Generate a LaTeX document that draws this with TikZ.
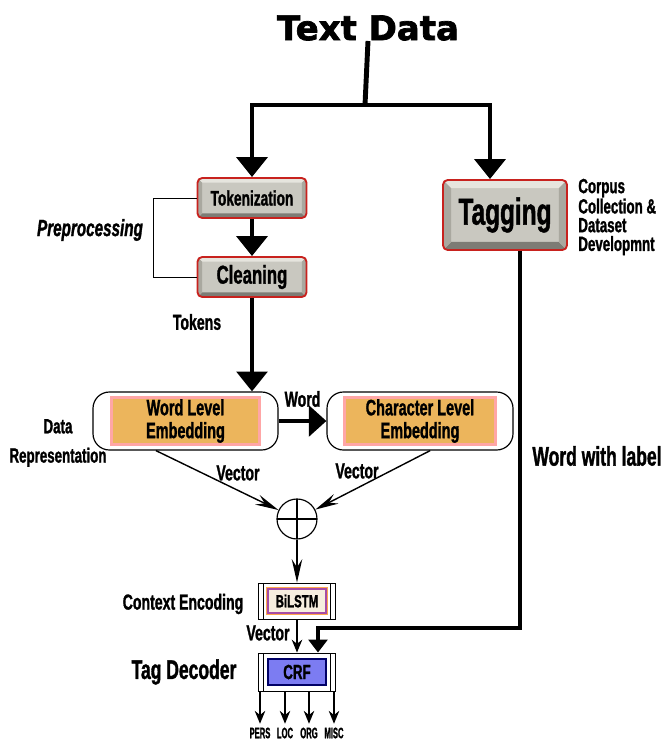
\documentclass[tikz,border=0pt]{standalone}
\usepackage{fontspec}
\setmainfont{Liberation Sans}
\newfontfamily\narrowfont{Liberation Sans}[FakeStretch=0.65, BoldFeatures={FakeBold=1.2}, BoldItalicFeatures={FakeBold=1.2}]
\newfontfamily\condfont{Liberation Sans}[FakeStretch=0.5, BoldFeatures={FakeBold=1}]
\newfontfamily\titlefont{DejaVu Sans}[BoldFeatures={FakeBold=2}]
\usepackage{tikz}
\usetikzlibrary{arrows.meta,calc,positioning}
\newcommand{\setfs}[2]{\fontsize{#1}{#2}\selectfont}

\definecolor{keyred}{HTML}{C8221E}
\definecolor{keyface}{HTML}{C9C8C0}
\definecolor{keylight}{HTML}{E6E5DE}
\definecolor{keyside}{HTML}{A9A89F}
\definecolor{keydark}{HTML}{7D7C75}
\definecolor{embfill}{HTML}{ECB55C}
\definecolor{crffill}{HTML}{7C7CF2}
\definecolor{lstmfill}{HTML}{F6EEDF}

% grey key with a bevel, #1 = bevel depth
\tikzset{keybox/.style={draw=keyred, line width=1.6pt, rounded corners=4pt, fill=keyface,
    font=\narrowfont\bfseries, inner sep=0pt,
    path picture={
      \coordinate (ksw) at (path picture bounding box.south west);
      \coordinate (kse) at (path picture bounding box.south east);
      \coordinate (knw) at (path picture bounding box.north west);
      \coordinate (kne) at (path picture bounding box.north east);
      \fill[keydark, sharp corners] (ksw) -- (kse) -- ([shift={(-#1,#1)}]kse) -- ([shift={(#1,#1)}]ksw) -- cycle;
      \fill[keylight, sharp corners] (knw) -- (kne) -- ([shift={(-#1,-#1)}]kne) -- ([shift={(#1,-#1)}]knw) -- cycle;
      \fill[keyside, sharp corners] (ksw) -- (knw) -- ([shift={(#1,-#1)}]knw) -- ([shift={(#1,#1)}]ksw) -- cycle;
      \fill[keyside, sharp corners] (kse) -- (kne) -- ([shift={(-#1,-#1)}]kne) -- ([shift={(-#1,#1)}]kse) -- cycle;
    }}}

\begin{document}
\begin{tikzpicture}[x=0.03cm,y=-0.03cm,>=Stealth,semithick]
  \tikzstyle{lbl}=[inner sep=0pt, font=\narrowfont\bfseries\setfs{18.5}{20}]
  \tikzstyle{embouter}=[draw, fill=white, line width=1pt, rounded corners=14pt,
                        minimum width=5.55cm, minimum height=1.74cm]
  \tikzstyle{embinner}=[fill=embfill, draw=red!35, line width=2.5pt, minimum width=4.45cm,
                        minimum height=1.4cm, align=center, inner sep=0pt,
                        font=\narrowfont\bfseries\setfs{19}{19.5}]
  \tikzstyle{procbox}=[draw, fill=white, line width=0.8pt, minimum width=2.31cm,
                       path picture={
                         \draw[line width=0.8pt] ([xshift=4.5pt]path picture bounding box.north west) -- ([xshift=4.5pt]path picture bounding box.south west);
                         \draw[line width=0.8pt] ([xshift=-4.5pt]path picture bounding box.north east) -- ([xshift=-4.5pt]path picture bounding box.south east);}]
  \tikzstyle{bigarrow}=[line width=4.2pt, -{Triangle[width=26pt,length=17pt]}]
  \tikzstyle{tagarrow}=[line width=3.4pt, -{Triangle[width=16pt,length=11pt]}]
  \tikzstyle{vecarrow}=[line width=1.2pt, -{Stealth[length=20pt,width=9pt,inset=7pt]}]
  \tikzstyle{smallarrow}=[line width=1.2pt, -{Stealth[length=11pt,width=9pt]}]

  \useasboundingbox (0,0) rectangle (667,743);

  % top: data and the two branches
  \node[inner sep=0pt, font=\titlefont\bfseries\setfs{29}{30}] (title) at (368,28) {Text Data};
  \coordinate (split) at (365,105);

  \node[keybox=4pt, minimum width=3.27cm, minimum height=1.2cm, font=\narrowfont\bfseries\setfs{18}{19}] (tok) at (252,198) {Tokenization};
  \node[keybox=4pt, minimum width=3.27cm, minimum height=1.2cm, font=\narrowfont\bfseries\setfs{22}{23}] (clean) at (252,277) {Cleaning};
  \node[keybox=7pt, minimum width=3.72cm, minimum height=2.1cm, font=\narrowfont\bfseries\setfs{32}{33}] (tag) at (505,215) {Tagging};

  \node[lbl, font=\narrowfont\bfseries\itshape\setfs{20}{22}] (prep) at (90,230) {Preprocessing};
  \node[lbl, anchor=west, align=left, font=\narrowfont\bfseries\setfs{17.5}{16}] (corpus) at (578,217) {Corpus\\Collection \&\\Dataset\\Developmnt};
  \node[lbl] (tokens) at (197,322) {Tokens};

  \draw[line width=4.2pt] (title.south) -- (split);
  \draw[bigarrow] (split) -| (tok.north);
  \draw[bigarrow] (split) -| ($(tag.north)+(-15,0)$);
  \draw[bigarrow] (tok) -- (clean);
  \draw[line width=0.8pt] (tok.west) -- ++(-43,0) |- (clean.west);

  % representation
  \node[embouter] (wordemb) at (185.5,421) {};
  \node[embinner] (wordin) at (wordemb) {Word Level\\Embedding};
  \node[embouter, minimum width=5.58cm] (charemb) at (420,421) {};
  \node[embinner, minimum width=4.53cm] (charin) at (charemb) {Character Level\\Embedding};
  \node[lbl, align=center, font=\narrowfont\bfseries\setfs{17.5}{25}] (datarep) at (58,443) {Data\\Representation};

  \draw[bigarrow] (clean.south) -- (clean.south |- wordemb.north);
  \draw[line width=4pt, -{Triangle[width=26pt,length=15pt]}] (wordemb) -- (charemb)
    node[lbl, midway, above=10pt] (wordlbl) {Word};

  \node[circle, draw, line width=1pt, minimum size=1.2cm, inner sep=0pt,
        path picture={\draw[line width=1pt] (path picture bounding box.north) -- (path picture bounding box.south)
                      (path picture bounding box.west) -- (path picture bounding box.east);}] (sum) at (297,519) {};
  \draw[vecarrow] (wordemb.-135) -- (sum);
  \draw[vecarrow] (charemb.-71) -- (sum);
  \node[lbl] (vec1) at (238,473) {Vector};
  \node[lbl] (vec2) at (357,471) {Vector};

  % encoding and decoding
  \node[procbox, minimum height=1.08cm] (bilstm) at (297,601) {};
  \node[fill=lstmfill, draw=violet!70, line width=1pt, preaction={draw=orange!70, line width=3.5pt},
        minimum width=1.74cm, minimum height=0.72cm, inner sep=0pt,
        font=\narrowfont\bfseries\setfs{15}{15}] (bilstmin) at (bilstm) {BiLSTM};
  \node[lbl] (ctx) at (183,604) {Context Encoding};
  \draw[vecarrow] (sum) -- (bilstm);

  \node[procbox, minimum height=1.14cm] (crf) at (297,672) {};
  \node[fill=crffill, draw=blue!40!black, line width=1pt, minimum width=1.74cm, minimum height=0.78cm,
        inner sep=0pt, font=\narrowfont\bfseries\setfs{17.5}{18}] (crfin) at (crf) {CRF};
  \node[lbl, font=\narrowfont\bfseries\setfs{23}{24}] (tagdec) at (184,672) {Tag Decoder};
  \draw[smallarrow] (bilstm) -- (crf);
  \node[lbl] (vec3) at (268,633) {Vector};

  \coordinate (turn) at (318,628);
  \draw[tagarrow] ($(tag.south)+(15,0)$) |- (turn) -- (turn |- crf.north);
  \node[lbl, font=\narrowfont\bfseries\setfs{23}{24}] (wwl) at (597,456) {Word with label};

  \foreach \x/\lab [count=\i] in {260/PERS,285/LOC,309/ORG,334/MISC}{
    \node[inner sep=0pt, font=\condfont\bfseries\setfs{13}{13}] (out\i) at (\x,733) {\lab};
    \draw[smallarrow, shorten >=3pt] (crf.south -| out\i) -- (out\i.north);
  }
\end{tikzpicture}
\end{document}
